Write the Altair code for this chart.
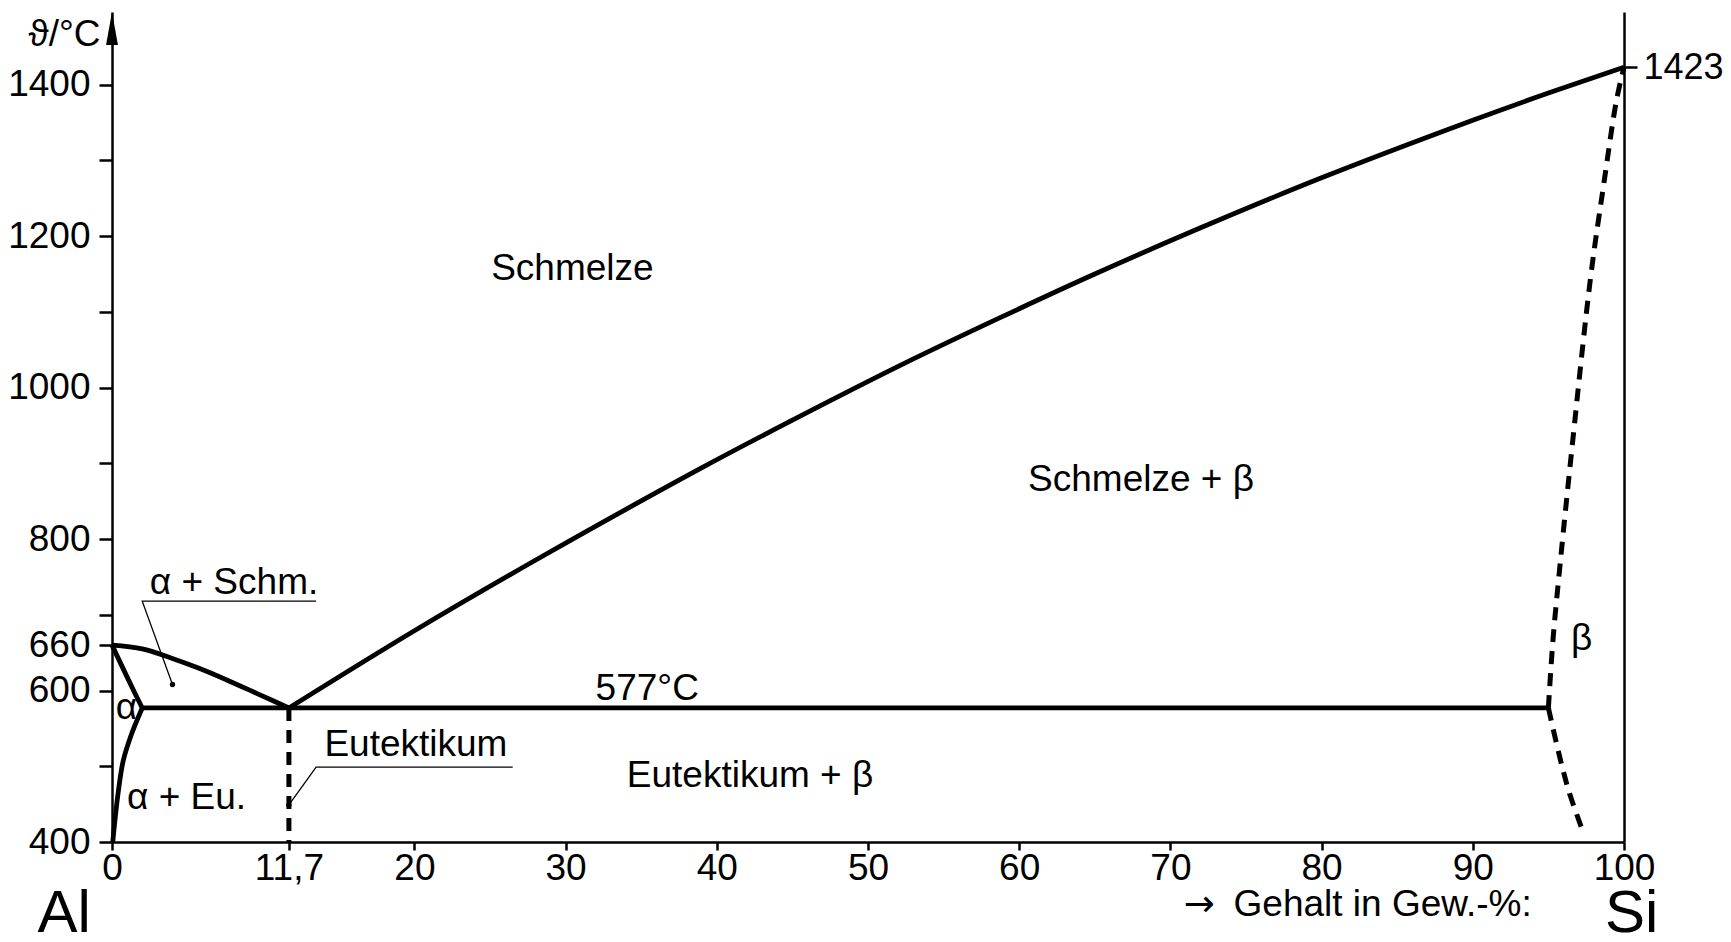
import altair as alt
import pandas as pd

FONT = "Liberation Sans"
FS = 37

# ---------------- data (x: wt-% Si, T: °C) ----------------
liq_al_x = [0, 2.0, 3.9, 5.8, 7.7, 9.6, 11.7]
liq_al_T = [660, 655, 643, 629, 613, 596, 577]

sol_al_x = [0, 0.9, 1.5, 2.0]
sol_al_T = [660, 622, 597, 577]

solv_al_x = [2.0, 1.3, 0.75, 0.4, 0.15, 0.05]
solv_al_T = [577, 543, 508, 464, 420, 400]

liq_si_x = [11.7, 20, 28, 38.9, 45, 52.1, 58.7, 65, 72, 80, 90, 95, 100]
liq_si_T = [577, 679, 772, 893, 957, 1029, 1092, 1150, 1211, 1277, 1353, 1389, 1423]

eut_x = [2.0, 95]
eut_T = [577, 577]

eut_v_x = [11.7, 11.7]
eut_v_T = [577, 400]

beta_up_x = [95, 95.3, 95.8, 96.6, 97.8, 98.7, 99.5, 100]
beta_up_T = [577, 666, 772, 928, 1147, 1274, 1379, 1423]

beta_lo_x = [95, 95.8, 96.4, 97.3]
beta_lo_T = [577, 508, 464, 413]

# leader lines and their dots
lead_schm_x = [13.5, 2.0, 4.0]
lead_schm_T = [718, 718, 608]
lead_eu_x = [26.5, 13.5, 11.7]
lead_eu_T = [499, 499, 449]
dot_x = [4.0, 11.7]
dot_T = [608, 449]

# labels
lab_c_text = ["Schmelze", "Schmelze + β", "α + Schm.", "Eutektikum", "α + Eu.",
              "577°C", "Eutektikum + β", "β", "α"]
lab_c_x = [30.45, 68.06, 8.07, 20.1, 4.93, 35.4, 42.2, 97.2, 0.96]
lab_c_T = [1142, 863, 728, 514, 444, 588, 473, 653, 563]

lab_big_text = ["Al", "Si"]
lab_big_x = [-4.93, 98.74]
lab_big_T = [281, 281]

lab_r_text = ["Gehalt in Gew.-%:"]
lab_r_x = [93.9]
lab_r_T = [302]

arrow_text = ["→"]
arrow_x = [71.9]
arrow_T = [302]

# axes
x_ticks = [0, 11.7, 20, 30, 40, 50, 60, 70, 80, 90, 100]
y_ticks = [400, 500, 600, 660, 700, 800, 900, 1000, 1100, 1200, 1300, 1400]
y_unlabelled = [500, 700, 900, 1100, 1300]
si_melt = [1423]
T_min, T_max = 400, 1496


def seg(name, xs, ts):
    return pd.DataFrame({"seg": name, "i": list(range(len(xs))), "x": xs, "T": ts})


solid_df = pd.concat([
    seg("liq_al", liq_al_x, liq_al_T),
    seg("sol_al", sol_al_x, sol_al_T),
    seg("solv_al", solv_al_x, solv_al_T),
    seg("liq_si", liq_si_x, liq_si_T),
    seg("eut", eut_x, eut_T),
])
dash_df = pd.concat([
    seg("eut_v", eut_v_x, eut_v_T),
    seg("beta_up", beta_up_x, beta_up_T),
    seg("beta_lo", beta_lo_x, beta_lo_T),
])
lead_df = pd.concat([
    seg("schm", lead_schm_x, lead_schm_T),
    seg("eu", lead_eu_x, lead_eu_T),
])
dot_df = pd.DataFrame({"x": dot_x, "T": dot_T})
lab_c_df = pd.DataFrame({"t": lab_c_text, "x": lab_c_x, "T": lab_c_T})
lab_big_df = pd.DataFrame({"t": lab_big_text, "x": lab_big_x, "T": lab_big_T})
lab_r_df = pd.DataFrame({"t": lab_r_text, "x": lab_r_x, "T": lab_r_T})
arrow_txt_df = pd.DataFrame({"t": arrow_text, "x": arrow_x, "T": arrow_T})
arrow_df = pd.DataFrame({"x": [0], "T": [T_max]})

xs = alt.Scale(domain=[0, 100], nice=False, zero=False)
ys = alt.Scale(domain=[T_min, T_max], nice=False, zero=False)

axis_common = dict(grid=False, domainColor="black", domainWidth=2.5, tickColor="black",
                   tickWidth=2.5, labelFont=FONT, labelColor="black",
                   labelOverlap=False, labelFlush=False, labelBound=False, format="d")

hide_expr = " || ".join("datum.value == %d" % v for v in y_unlabelled)

x_axis = alt.Axis(values=x_ticks, title=None, tickSize=8, labelPadding=0, orient="bottom",
                  labelFontSize=FS,
                  labelExpr="datum.value == 11.7 ? '11,7' : datum.label", **axis_common)
y_axis = alt.Axis(values=y_ticks, tickSize=13, labelPadding=9, orient="left",
                  labelFontSize=FS,
                  labelExpr="(" + hide_expr + ") ? '' : datum.label",
                  title="ϑ/°C", titleAngle=0, titleAlign="right", titleBaseline="alphabetic",
                  titleX=-12, titleY=33, titleFont=FONT, titleFontSize=FS,
                  titleFontWeight="normal", titleColor="black", **axis_common)
y_axis_r = alt.Axis(values=si_melt, orient="right", tickSize=13, labelPadding=6,
                    labelFontSize=36, title=None, **axis_common)


def X():
    return alt.X("x:Q", scale=xs, axis=x_axis)


def Y(axis=None):
    return alt.Y("T:Q", scale=ys, axis=axis)


solid = alt.Chart(solid_df).mark_line(
    color="black", strokeWidth=4.8, interpolate="catmull-rom", strokeCap="butt"
).encode(x=X(), y=Y(y_axis), detail="seg:N", order="i:Q")

dashed = alt.Chart(dash_df).mark_line(
    color="black", strokeWidth=5, strokeDash=[13, 9], interpolate="catmull-rom", strokeCap="butt"
).encode(x=X(), y=Y(y_axis_r), detail="seg:N", order="i:Q")

leaders = alt.Chart(lead_df).mark_line(color="black", strokeWidth=1.3).encode(
    x=X(), y=Y(), detail="seg:N", order="i:Q")

dots = alt.Chart(dot_df).mark_circle(color="black", size=28, opacity=1).encode(x=X(), y=Y())

arrow = alt.Chart(arrow_df).mark_point(
    shape="M0,0L0.36,2L-0.36,2Z", size=1089, filled=True, color="black", opacity=1, strokeWidth=0
).encode(x=X(), y=Y())

lab_c = alt.Chart(lab_c_df).mark_text(
    font=FONT, fontSize=FS, align="center", baseline="alphabetic", color="black"
).encode(x=X(), y=Y(), text="t:N")

lab_big = alt.Chart(lab_big_df).mark_text(
    font=FONT, fontSize=60, align="left", baseline="alphabetic", color="black"
).encode(x=X(), y=Y(), text="t:N")

lab_r = alt.Chart(lab_r_df).mark_text(
    font=FONT, fontSize=FS, align="right", baseline="alphabetic", color="black"
).encode(x=X(), y=Y(), text="t:N")

lab_arrow = alt.Chart(arrow_txt_df).mark_text(
    font="DejaVu Sans", fontSize=FS, align="center", baseline="alphabetic", color="black"
).encode(x=X(), y=Y(), text="t:N")

chart = alt.layer(
    solid, dashed, leaders, dots, arrow, lab_c, lab_big, lab_r, lab_arrow
).resolve_axis(y="independent").properties(
    width=1512, height=830,
    autosize=alt.AutoSizeParams(type="none"),
    padding={"left": 104, "top": 4, "right": 99, "bottom": 92},
    background="white",
).configure_view(stroke=None)

chart.save("out.html", embed_options={"renderer": "svg", "actions": False})
